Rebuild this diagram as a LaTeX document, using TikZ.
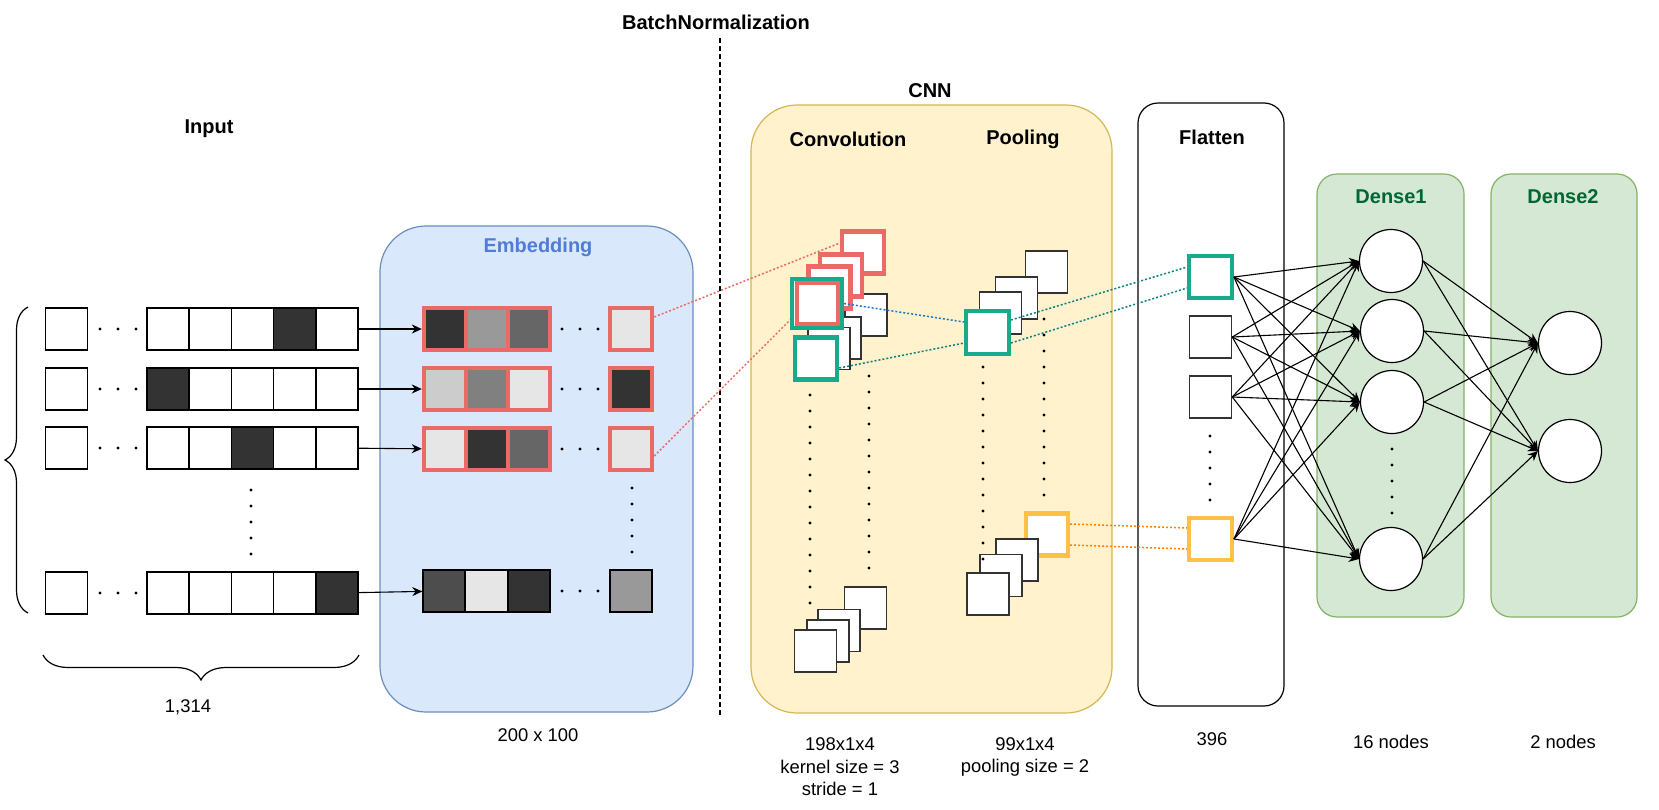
\documentclass[tikz,border=0pt]{standalone}
\usepackage{fontspec}
\setmainfont{Liberation Sans}
\usetikzlibrary{arrows.meta, positioning, decorations.pathreplacing}

\definecolor{embfill}{HTML}{DAE8FC}
\definecolor{embline}{HTML}{6C8EBF}
\definecolor{embtext}{HTML}{4F7DD5}
\definecolor{cnnfill}{HTML}{FFF2CC}
\definecolor{cnnline}{HTML}{D6B656}
\definecolor{densefill}{HTML}{D5E8D4}
\definecolor{denseline}{HTML}{82B366}
\definecolor{densetext}{HTML}{006633}
\definecolor{cellred}{HTML}{EA6B66}
\definecolor{cellgreen}{HTML}{17AB8C}
\definecolor{cellorange}{HTML}{FFC145}
\definecolor{tieblue}{HTML}{1F77C8}
\definecolor{tieteal}{HTML}{0E8088}
\definecolor{tieorange}{HTML}{FF8000}
\definecolor{g33}{HTML}{333333}
\definecolor{g4d}{HTML}{4D4D4D}
\definecolor{g66}{HTML}{666666}
\definecolor{g80}{HTML}{808080}
\definecolor{g99}{HTML}{999999}
\definecolor{gcc}{HTML}{CCCCCC}
\definecolor{ge6}{HTML}{E6E6E6}

\begin{document}
\begin{tikzpicture}[x=0.5pt, y=-0.5pt,
    cell/.style={draw=black, line width=0.7pt, fill=white, minimum size=21pt, inner sep=0pt},
    embcell/.style={draw=cellred, line width=2.2pt, minimum size=21pt, inner sep=0pt},
    fmap/.style={draw=g33, line width=0.75pt, fill=white, minimum size=21pt, inner sep=0pt},
    redmap/.style={fmap, draw=cellred, line width=2.2pt},
    greenmap/.style={fmap, draw=cellgreen, line width=2.2pt},
    orangemap/.style={fmap, draw=cellorange, line width=2.2pt},
    panel/.style={draw, line width=0.6pt, inner sep=0pt},
    neuron/.style={circle, draw=black, line width=0.6pt, fill=white, minimum size=31.5pt, inner sep=0pt},
    title/.style={font=\bfseries\fontsize{10}{12}\selectfont, inner sep=0pt},
    note/.style={font=\fontsize{9.2}{11.3}\selectfont, align=center, inner sep=0pt},
    link/.style={-{Stealth[length=5pt, width=4.5pt]}, line width=0.55pt},
    tie/.style={line width=0.75pt, dash pattern=on 1pt off 1pt}]

    \useasboundingbox (0,0) rectangle (1659,809);

    % Panels
    \node[panel, fill=embfill, draw=embline, rounded corners=23pt,
          minimum width=156.5pt, minimum height=243pt] (embbox) at (536.5,469) {};
    \node[panel, fill=cnnfill, draw=cnnline, rounded corners=23pt,
          minimum width=180.5pt, minimum height=304pt] (cnnbox) at (931.5,409) {};
    \node[panel, fill=white, draw=black, rounded corners=10pt,
          minimum width=73pt, minimum height=301.5pt] (flatbox) at (1211,404.5) {};
    \node[panel, fill=densefill, draw=denseline, rounded corners=10pt,
          minimum width=73.5pt, minimum height=221.5pt] (d1box) at (1390.5,395.5) {};
    \node[panel, fill=densefill, draw=denseline, rounded corners=10pt,
          minimum width=73pt, minimum height=221.5pt] (d2box) at (1564,395.5) {};

    % BatchNormalization split
    \coordinate (bntop) at (720,38);
    \coordinate (bnbot) at (720,716);
    \draw[line width=0.6pt, dash pattern=on 2.5pt off 1.5pt] (bntop) -- (bnbot);

    % Titles
    \node[title] (lbnorm) at (716,22) {BatchNormalization};
    \node[title] (linput) at (209,129) {Input};
    \node[title, text=embtext] (lemb) at (538,247) {Embedding};
    \node[title] (lcnn) at (930,91) {CNN};
    \node[title] (lconv) at (848,139) {Convolution};
    \node[title] (lpool) at (1023,139) {Pooling};
    \node[title] (lflat) at (1212,137) {Flatten};
    \node[title, text=densetext] (ld1) at (1391,197) {Dense1};
    \node[title, text=densetext] (ld2) at (1563,197) {Dense2};

    % Input rows (one-hot)
    \foreach \y/\d [count=\r] in {329/4, 389/1, 448/3, 593/5} {
        \node[cell] (in\r) at (66.5,\y) {};
        \foreach \x [count=\c] in {168.1,210.3,252.5,294.7,336.9} {
            \ifnum\c=\d\relax \def\cf{g33}\else \def\cf{white}\fi
            \node[cell, fill=\cf] (in\r-\c) at (\x,\y) {};
        }
        \foreach \x in {100,118,136}
            \fill (\x,\y) circle (0.8pt);
    }
    \foreach \y in {490,506,...,554}
        \fill (251,\y) circle (0.8pt);

    % Braces
    \draw[line width=0.6pt, decorate, decoration={brace, amplitude=11.5pt}] (28,613) -- (28,307);
    \draw[line width=0.6pt, decorate, decoration={brace, amplitude=12.5pt}] (359,655) -- (43,655);

    % Embedding rows
    \foreach \y/\fa/\fb/\fc/\fd [count=\r] in {329/g33/g99/g66/ge6, 389/gcc/g80/ge6/g33, 449/ge6/g33/g66/ge6} {
        \node[embcell, fill=\fa] (em\r-1) at (445,\y) {};
        \node[embcell, fill=\fb] (em\r-2) at (487,\y) {};
        \node[embcell, fill=\fc] (em\r-3) at (529,\y) {};
        \node[embcell, fill=\fd] (em\r-4) at (631,\y) {};
        \foreach \x in {562,580,598}
            \fill (\x,\y) circle (0.8pt);
    }
    \node[cell, fill=g4d] (em4-1) at (444,591) {};
    \node[cell, fill=ge6] (em4-2) at (486.5,591) {};
    \node[cell, fill=g33] (em4-3) at (529,591) {};
    \node[cell, fill=g99] (em4-4) at (631,591) {};
    \foreach \x in {562,580,598}
        \fill (\x,591) circle (0.8pt);
    \foreach \y in {488,504,...,552}
        \fill (632,\y) circle (0.8pt);

    % Input to embedding
    \foreach \r in {1,2,3,4}
        \draw[link] (in\r-5) -- (em\r-1);

    % Convolution maps
    \node[fmap] (cb1) at (866,315) {};
    \node[fmap] (cb2) at (840,338) {};
    \node[fmap] (cb3) at (829,348.5) {};
    \node[greenmap] (cb4) at (816,358.5) {};
    \node[redmap] (ca1) at (863,252.5) {};
    \node[redmap] (ca2) at (841,275.5) {};
    \node[redmap] (ca3) at (829.5,287.5) {};
    \node[greenmap, minimum size=24.75pt] (ca4) at (817,303.5) {};
    \node[redmap, minimum size=20.25pt] (ca5) at (817.5,303.5) {};
    \node[fmap] (cc1) at (865.5,608) {};
    \node[fmap] (cc2) at (839,630.5) {};
    \node[fmap] (cc3) at (828,641) {};
    \node[fmap] (cc4) at (815.5,651) {};

    % Pooling maps
    \node[fmap] (pa1) at (1046.5,272) {};
    \node[fmap] (pa2) at (1016.5,298) {};
    \node[fmap] (pa3) at (1000.5,313) {};
    \node[greenmap, minimum size=21.25pt] (pa4) at (987.5,332.5) {};
    \node[orangemap] (pb1) at (1047,534.5) {};
    \node[fmap] (pb2) at (1017,560) {};
    \node[fmap] (pb3) at (1001,575.5) {};
    \node[fmap] (pb4) at (988,594) {};

    % Dots in CNN
    \foreach \y in {395,411,...,608} \fill (810,\y) circle (0.8pt);
    \foreach \y in {376,392,...,569} \fill (869,\y) circle (0.8pt);
    \foreach \y in {367,383,...,561} \fill (983,\y) circle (0.8pt);
    \foreach \y in {319,335,...,496} \fill (1044,\y) circle (0.8pt);

    % Flatten
    \node[greenmap, minimum size=21.25pt] (f1) at (1210.5,277) {};
    \node[fmap] (f2) at (1210.5,337) {};
    \node[fmap] (f3) at (1210.5,397) {};
    \node[orangemap, minimum size=21.25pt] (f4) at (1210.5,539) {};
    \foreach \y in {436,452,...,500} \fill (1210,\y) circle (0.8pt);

    % Dense layers
    \node[neuron] (h1) at (1391,261) {};
    \node[neuron] (h2) at (1392,331) {};
    \node[neuron] (h3) at (1392,402) {};
    \node[neuron] (h4) at (1391,559) {};
    \foreach \y in {449,465,...,513} \fill (1392,\y) circle (0.8pt);
    \node[neuron] (o1) at (1570,343) {};
    \node[neuron] (o2) at (1570,451) {};

    \foreach \s in {f1,f2,f3,f4}
        \foreach \t in {h1,h2,h3,h4}
            \draw[link] (\s.east) -- (\t.west);
    \foreach \s in {h1,h2,h3,h4}
        \foreach \t in {o1,o2}
            \draw[link] (\s.east) -- (\t.west);

    % Dotted ties
    \draw[tie, draw=cellred] ([yshift=6pt]em1-4.east) -- ([yshift=4.75pt]ca1.west);
    \draw[tie, draw=cellred] ([yshift=-3.5pt]em3-4.east) -- ([yshift=-8.25pt]ca4.west);
    \draw[tie, draw=tieblue] (ca4.east) -- ([yshift=5.25pt]pa4.west);
    \draw[tie, draw=tieteal] ([yshift=-4.75pt]cb4.east) -- ([yshift=-5.25pt]pa4.west);
    \draw[tie, draw=tieteal] ([yshift=6.25pt]pa4.east) -- ([yshift=5pt]f1.west);
    \draw[tie, draw=tieteal] ([yshift=-5.25pt]pa4.east) -- ([yshift=-5.5pt]f1.west);
    \draw[tie, draw=tieorange] ([yshift=5.25pt]pb1.east) -- ([yshift=5.5pt]f4.west);
    \draw[tie, draw=tieorange] ([yshift=-5.25pt]pb1.east) -- ([yshift=-5pt]f4.west);

    % Sizes
    \node[note] (ninput) at (188,707) {1,314};
    \node[note] (nemb) at (538,735) {200 x 100};
    \node[note] (nconv) at (840,767) {198x1x4\\kernel size = 3\\stride = 1};
    \node[note] (npool) at (1025,757) {99x1x4\\pooling size = 2};
    \node[note] (nflat) at (1212,739) {396};
    \node[note] (nd1) at (1391,742) {16 nodes};
    \node[note] (nd2) at (1563,742) {2 nodes};
\end{tikzpicture}
\end{document}
